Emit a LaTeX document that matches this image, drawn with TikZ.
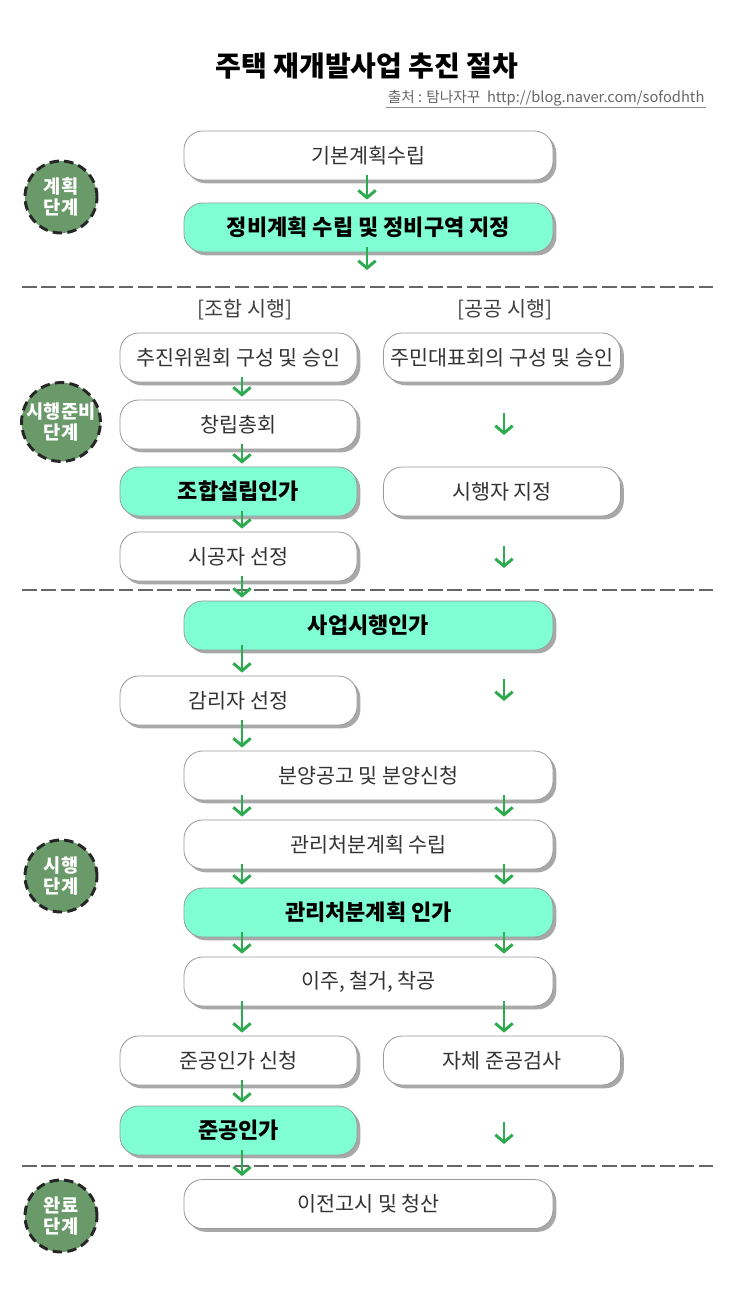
\documentclass[tikz,border=0pt]{standalone}
\usepackage{fontspec}
\setmainfont{Noto Sans CJK KR}
\usetikzlibrary{arrows.meta,shadows,calc}
\definecolor{stagegreen}{HTML}{6A9A6A}
\definecolor{mint}{HTML}{80FFD4}
\definecolor{arrowgreen}{HTML}{2EAA50}
\definecolor{boxborder}{HTML}{9A9A9A}
\definecolor{shadowgray}{HTML}{A8A8A8}
\newcommand\flowarrow[3]{\draw[arr] ($(#1.south -| #3)+(0,-5)$) -- ($(#2.north -| #3)+(0,-3)$);}
\begin{document}
\begin{tikzpicture}[x=0.75pt,y=-0.75pt,
  box/.style={draw=boxborder, line width=0.6pt, rounded corners=14pt, fill=white, text=black!80,
    font=\fontsize{15.5}{18}\selectfont, inner sep=0pt,
    drop shadow={shadow xshift=2.5pt, shadow yshift=-2.5pt, fill=shadowgray, opacity=1}},
  bigbox/.style={box, minimum width=276.75pt, minimum height=36.75pt},
  sidebox/.style={box, minimum width=177.75pt, minimum height=36.75pt},
  key/.style={fill=mint, text=black, font=\bfseries\fontsize{16.5}{19}\selectfont},
  stage/.style={circle, fill=stagegreen, draw=black!85, line width=2.2pt, dash pattern=on 7pt off 4pt,
    minimum size=54pt, inner sep=0pt, text=white, font=\bfseries\fontsize{14}{16}\selectfont, align=center},
  arr/.style={draw=arrowgreen, line width=2.2pt, -{Straight Barb[length=5.5pt,width=13pt]}},
  sepline/.style={draw=black!60, line width=1pt, dash pattern=on 11pt off 3.5pt},
  hdr/.style={font=\fontsize{15.5}{18}\selectfont, text=black!75}
]
\useasboundingbox (0,0) rectangle (743,1300);

% column coordinates
\coordinate (C) at (367,0);
\coordinate (L) at (242,0);
\coordinate (R) at (504,0);

% title
\node[font=\bfseries\fontsize{21}{24}\selectfont] (title) at (367,66) {주택 재개발사업 추진 절차};
\node[anchor=east, font=\fontsize{11}{13}\selectfont, text=black!60, inner sep=1pt] (src) at (706,98) {출처 : 탐나자꾸~~http://blog.naver.com/sofodhth};
\draw[black!45, line width=0.8pt] (src.south west) -- (src.south east);

% separators
\coordinate (d1a) at (22,287); \coordinate (d1b) at (715,287);
\coordinate (d2a) at (22,590); \coordinate (d2b) at (715,590);
\coordinate (d3a) at (22,1166); \coordinate (d3b) at (715,1166);
\draw[sepline] (d1a) -- (d1b);
\draw[sepline] (d2a) -- (d2b);
\draw[sepline] (d3a) -- (d3b);

% stage circles
\node[stage] (s1) at (61,197) {계획\\단계};
\node[stage] (s2) at (61,422) {시행준비\\단계};
\node[stage] (s3) at (61,876) {시행\\단계};
\node[stage] (s4) at (61,1216) {완료\\단계};

% boxes
\node[bigbox] (n1) at (368.5,155.5) {기본계획수립};
\node[bigbox,key] (n2) at (368.5,227.5) {정비계획 수립 및 정비구역 지정};
\node[hdr] (h1) at (245,310) {[조합 시행]};
\node[hdr] (h2) at (505,310) {[공공 시행]};
\node[sidebox] (l1) at (238.5,357.5) {추진위원회 구성 및 승인};
\node[sidebox] (r1) at (502,357.5) {주민대표회의 구성 및 승인};
\node[sidebox] (l2) at (238.5,424.5) {창립총회};
\node[sidebox,key] (l3) at (238.5,491.5) {조합설립인가};
\node[sidebox] (r3) at (502,491.5) {시행자 지정};
\node[sidebox] (l4) at (238.5,556.5) {시공자 선정};
\node[bigbox,key] (n3) at (368.5,625.5) {사업시행인가};
\node[sidebox] (l5) at (238.5,700.5) {감리자 선정};
\node[bigbox] (n4) at (368.5,775.5) {분양공고 및 분양신청};
\node[bigbox] (n5) at (368.5,844.5) {관리처분계획 수립};
\node[bigbox,key] (n6) at (368.5,912.5) {관리처분계획 인가};
\node[bigbox] (n7) at (368.5,981.5) {이주, 철거, 착공};
\node[sidebox] (l6) at (238.5,1060.5) {준공인가 신청};
\node[sidebox] (r6) at (502,1060.5) {자체 준공검사};
\node[sidebox,key] (l7) at (238.5,1130.5) {준공인가};
\node[bigbox] (n8) at (368.5,1204) {이전고시 및 청산};

% arrows
\flowarrow{n1}{n2}{C}
\coordinate (e0) at (367,270);
\draw[arr] ($(n2.south -| C)+(0,-5)$) -- (e0);
\flowarrow{l1}{l2}{L}
\flowarrow{l2}{l3}{L}
\flowarrow{l3}{l4}{L}
\flowarrow{l4}{n3}{L}
\coordinate (ra1) at (504,413); \coordinate (rb1) at (504,435);
\coordinate (ra2) at (504,546); \coordinate (rb2) at (504,568);
\coordinate (ra3) at (504,679); \coordinate (rb3) at (504,701);
\coordinate (ra4) at (504,1122); \coordinate (rb4) at (504,1144);
\draw[arr] (ra1) -- (rb1);
\draw[arr] (ra2) -- (rb2);
\draw[arr] (ra3) -- (rb3);
\draw[arr] (ra4) -- (rb4);
\flowarrow{n3}{l5}{L}
\flowarrow{l5}{n4}{L}
\flowarrow{n4}{n5}{L}
\flowarrow{n4}{n5}{R}
\flowarrow{n5}{n6}{L}
\flowarrow{n5}{n6}{R}
\flowarrow{n6}{n7}{L}
\flowarrow{n6}{n7}{R}
\flowarrow{n7}{l6}{L}
\flowarrow{n7}{r6}{R}
\flowarrow{l6}{l7}{L}
\flowarrow{l7}{n8}{L}
\end{tikzpicture}
\end{document}
